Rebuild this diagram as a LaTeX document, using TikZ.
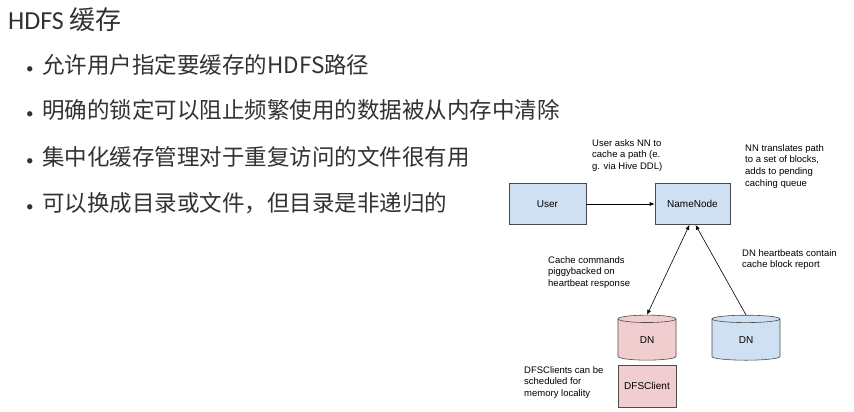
\documentclass[tikz,border=0pt]{standalone}
\usepackage{fontspec}
\setmainfont{Carlito}
\newfontfamily\cjk{Noto Sans CJK SC}
\newfontfamily\arial{Liberation Sans}
\usetikzlibrary{shapes.geometric,arrows.meta}
\definecolor{boxblue}{RGB}{207,224,242}
\definecolor{boxred}{RGB}{242,205,207}
\definecolor{txt}{RGB}{50,50,50}
\newcommand{\bul}{\makebox[16pt][l]{\fontspec{Carlito}\fontsize{15}{15}\selectfont•}}
\begin{document}
\begin{tikzpicture}[x=1pt,y=-1pt,
 rbox/.style={draw=black!70,line width=0.6pt,fill=boxblue,minimum width=77pt,minimum height=41pt,font=\arial\fontsize{10}{12}\selectfont},
 cyl/.style={draw=black!70,line width=0.6pt,cylinder,shape border rotate=90,aspect=0.35,minimum width=58pt,minimum height=45pt,font=\arial\fontsize{10}{12}\selectfont},
 note/.style={align=left,anchor=north west,inner sep=0pt,font=\arial\fontsize{9.5}{11.8}\selectfont},
 bullet/.style={anchor=west,inner sep=0pt,text=txt,font=\cjk\fontsize{22.5}{24}\selectfont},
 conn/.style={line width=0.6pt,-{Latex[length=5pt,width=4pt]}}]
\useasboundingbox[fill=white] (0,0) rectangle (854,412);
\node[anchor=west,inner sep=0pt,text=txt,font=\fontsize{26}{28}\selectfont] (title) at (8,20) {HDFS {\cjk 缓存}};
\node[bullet] (b1) at (26,65) {\bul 允许用户指定要缓存的HDFS路径};
\node[bullet] (b2) at (26,110) {\bul 明确的锁定可以阻止频繁使用的数据被从内存中清除};
\node[bullet] (b3) at (26,157) {\bul 集中化缓存管理对于重复访问的文件很有用};
\node[bullet] (b4) at (26,203) {\bul 可以换成目录或文件，但目录是非递归的};
\node[rbox] (user) at (547.5,204) {User};
\node[rbox,minimum width=75pt] (nn) at (692.5,204) {NameNode};
\node[cyl,fill=boxred] (dn1) at (647,340.5) {DN};
\node[cyl,fill=boxblue,minimum width=68pt] (dn2) at (746,340.5) {DN};
\node[rbox,fill=boxred,minimum width=58pt,minimum height=42pt] (dfs) at (647,386) {DFSClient};
\draw[conn] (user) -- (nn);
\draw[conn,{Latex[length=5pt,width=4pt]}-{Latex[length=5pt,width=4pt]}] (nn.south) ++(-3,0) coordinate (nna) (nna) -- (dn1.north);
\draw[conn] (dn2.north) -- ([xshift=3pt]nn.south);
\node[note] (t1) at (592,139) {User asks NN to\\cache a path (e.\\g. via Hive DDL)};
\node[note] (t2) at (745,144) {NN translates path\\to a set of blocks,\\adds to pending\\caching queue};
\node[note] (t3) at (548,256) {Cache commands\\piggybacked on\\heartbeat response};
\node[note] (t4) at (742,249) {DN heartbeats contain\\cache block report};
\node[note] (t5) at (524,366) {DFSClients can be\\scheduled for\\memory locality};
\end{tikzpicture}
\end{document}
